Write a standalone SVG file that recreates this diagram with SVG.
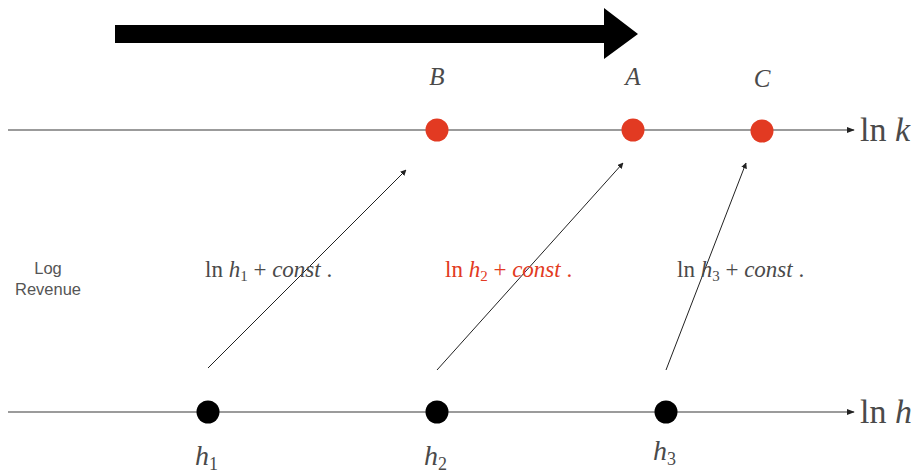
<svg xmlns="http://www.w3.org/2000/svg" width="920" height="473" viewBox="0 0 920 473">
<defs>
<style>
.axis{stroke:#7a7a7a;stroke-width:1.6;fill:none}
.conn{stroke:#222;stroke-width:1;fill:none}
.math{font-family:"Liberation Serif",serif;fill:#4a4a4a}
.it{font-style:italic}
.red{fill:#e23a22}
.lbl{font-family:"Liberation Sans",Arial,sans-serif;font-size:16.5px;fill:#555}
</style>
<marker id="ah" viewBox="0 0 10 10" refX="9" refY="5" markerWidth="6" markerHeight="6" orient="auto" markerUnits="userSpaceOnUse">
<path d="M0,0 L10,5 L0,10 z" fill="#222"/>
</marker>
<marker id="axh" viewBox="0 0 10 10" refX="9" refY="5" markerWidth="8" markerHeight="8" orient="auto" markerUnits="userSpaceOnUse">
<path d="M0,1 L10,5 L0,9 z" fill="#222"/>
</marker>
</defs>
<rect width="920" height="473" fill="#fff"/>
<g id="big-arrow">
<path d="M115,25 L604,25 L604,8 L638,34 L604,59 L604,43 L115,43 z" fill="#000"/>
</g>
<g id="axes">
<line class="axis" x1="8" y1="130" x2="854" y2="130" marker-end="url(#axh)"/>
<text class="math" x="860" y="141" font-size="34">ln <tspan class="it">k</tspan></text>
<line class="axis" x1="8" y1="412" x2="854" y2="412" marker-end="url(#axh)"/>
<text class="math" x="860" y="423" font-size="34">ln <tspan class="it">h</tspan></text>
</g>
<g id="connectors">
<line class="conn" x1="208" y1="368" x2="406" y2="170" marker-end="url(#ah)"/>
<line class="conn" x1="437" y1="370" x2="623" y2="163" marker-end="url(#ah)"/>
<line class="conn" x1="666" y1="370" x2="746" y2="163" marker-end="url(#ah)"/>
</g>
<g id="node-B">
<circle cx="437" cy="130" r="11.5" fill="#e23a22"/>
<text class="math it" x="437" y="85" font-size="25" text-anchor="middle">B</text>
</g>
<g id="node-A">
<circle cx="633" cy="130" r="11.5" fill="#e23a22"/>
<text class="math it" x="633" y="85" font-size="25" text-anchor="middle">A</text>
</g>
<g id="node-C">
<circle cx="762" cy="131" r="11.5" fill="#e23a22"/>
<text class="math it" x="762" y="87" font-size="25" text-anchor="middle">C</text>
</g>
<g id="node-h1">
<circle cx="208" cy="412" r="11.5" fill="#000"/>
<text class="math it" x="195" y="465" font-size="28">h<tspan font-style="normal" font-size="18" dy="5">1</tspan></text>
</g>
<g id="node-h2">
<circle cx="437" cy="412" r="11.5" fill="#000"/>
<text class="math it" x="424" y="465" font-size="28">h<tspan font-style="normal" font-size="18" dy="5">2</tspan></text>
</g>
<g id="node-h3">
<circle cx="666" cy="412" r="11.5" fill="#000"/>
<text class="math it" x="653" y="460" font-size="28">h<tspan font-style="normal" font-size="18" dy="5">3</tspan></text>
</g>
<g id="label-1">
<text class="math" x="205" y="277" font-size="23">ln <tspan class="it">h</tspan><tspan font-size="15" dy="4">1</tspan><tspan dy="-4"> + </tspan><tspan class="it">const</tspan> .</text>
</g>
<g id="label-2">
<text class="math red" x="445" y="277" font-size="23">ln <tspan class="it">h</tspan><tspan font-size="15" dy="4">2</tspan><tspan dy="-4"> + </tspan><tspan class="it">const</tspan> .</text>
</g>
<g id="label-3">
<text class="math" x="677" y="277" font-size="23">ln <tspan class="it">h</tspan><tspan font-size="15" dy="4">3</tspan><tspan dy="-4"> + </tspan><tspan class="it">const</tspan> .</text>
</g>
<g id="log-revenue">
<text class="lbl" x="48" y="274" text-anchor="middle">Log</text>
<text class="lbl" x="48" y="295" text-anchor="middle">Revenue</text>
</g>
</svg>
